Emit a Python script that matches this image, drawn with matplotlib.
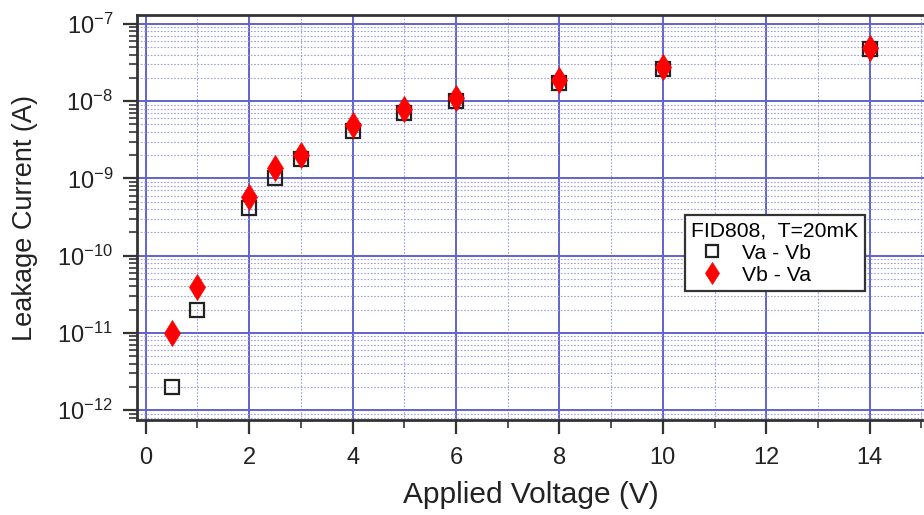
import matplotlib
matplotlib.use("Agg")
import matplotlib.pyplot as plt
from matplotlib.ticker import LogLocator, MultipleLocator, LogFormatterSciNotation, NullFormatter

plt.rcParams['font.family'] = ['Liberation Sans', 'DejaVu Sans']
plt.rcParams['mathtext.fontset'] = 'custom'
plt.rcParams['mathtext.rm'] = 'Liberation Sans'
plt.rcParams['mathtext.it'] = 'Liberation Sans'
plt.rcParams['mathtext.bf'] = 'Liberation Sans'

voltage = [0.5, 1, 2, 2.5, 3, 4, 5, 6, 8, 10, 14]
current_ab = [2e-12, 2e-11, 4.1e-10, 1.0e-9, 1.8e-9, 4.1e-9, 7.0e-9, 1.0e-8, 1.7e-8, 2.6e-8, 4.7e-8]
current_ba = [1.0e-11, 3.9e-11, 5.7e-10, 1.35e-9, 2.0e-9, 4.9e-9, 7.9e-9, 1.1e-8, 1.9e-8, 2.8e-8, 4.9e-8]

legend_title = "FID808,  T=20mK"
label_ab = "Va - Vb"
label_ba = "Vb - Va"

fig = plt.figure(figsize=(9.24, 5.15), dpi=100)
ax = fig.add_axes([0.148, 0.184, 0.852, 0.787])

major_blue = '#6262d0'
minor_blue = '#a0a0e4'

ax.set_yscale('log')
ax.set_xlim(-0.174, 15.05)
ax.set_ylim(10 ** (-12.13), 10 ** (-6.884))

ax.xaxis.set_major_locator(MultipleLocator(2))
ax.xaxis.set_minor_locator(MultipleLocator(1))
ax.yaxis.set_major_locator(LogLocator(base=10, numticks=20))
ax.yaxis.set_minor_locator(LogLocator(base=10, subs=range(2, 10), numticks=100))
ax.yaxis.set_major_formatter(LogFormatterSciNotation())
ax.yaxis.set_minor_formatter(NullFormatter())

ax.grid(which='major', color=major_blue, linewidth=1.4, linestyle='-', zorder=0)
ax.grid(which='minor', color=minor_blue, linewidth=0.8, linestyle=(0, (1.5, 1.5)), zorder=0)
ax.set_axisbelow(True)

for side in ['left', 'bottom', 'top']:
    ax.spines[side].set_color('#333333')
    ax.spines[side].set_linewidth(2.0)
ax.spines['right'].set_visible(False)

ax.tick_params(which='major', direction='out', length=10, width=1.6, color='#333333',
               labelsize=17, labelcolor='#222222')
ax.tick_params(which='minor', direction='out', length=6, width=1.2, color='#333333')
ax.tick_params(axis='x', which='major', pad=9)
ax.tick_params(axis='y', which='major', pad=7)
ax.tick_params(axis='x', which='both', top=False)
ax.tick_params(axis='y', which='both', right=False)

ax.plot(voltage, current_ab, linestyle='none', marker='s', markersize=10,
        markerfacecolor='none', markeredgecolor='#222222', markeredgewidth=1.6,
        label=label_ab, zorder=3)
ax.plot(voltage, current_ba, linestyle='none', marker='d', markersize=13.5,
        markerfacecolor='#ff0000', markeredgecolor='#ff0000', markeredgewidth=0.5,
        label=label_ba, zorder=4)

ax.set_xlabel("Applied Voltage (V)", fontsize=21.5, color='#222222', labelpad=9)
ax.set_ylabel("Leakage Current (A)", fontsize=19.5, color='#222222', labelpad=14)

leg = ax.legend(title=legend_title, loc='upper left', bbox_to_anchor=(0.696, 0.506),
                fontsize=15.2, title_fontsize=15.2, frameon=True, fancybox=False,
                edgecolor='#333333', framealpha=1.0, borderpad=0.3,
                handletextpad=0.4, labelspacing=0.15, handlelength=2.0,
                borderaxespad=0.0, alignment='left', markerscale=0.85)
leg.get_frame().set_linewidth(1.6)

fig.savefig("out.png", dpi=100)
